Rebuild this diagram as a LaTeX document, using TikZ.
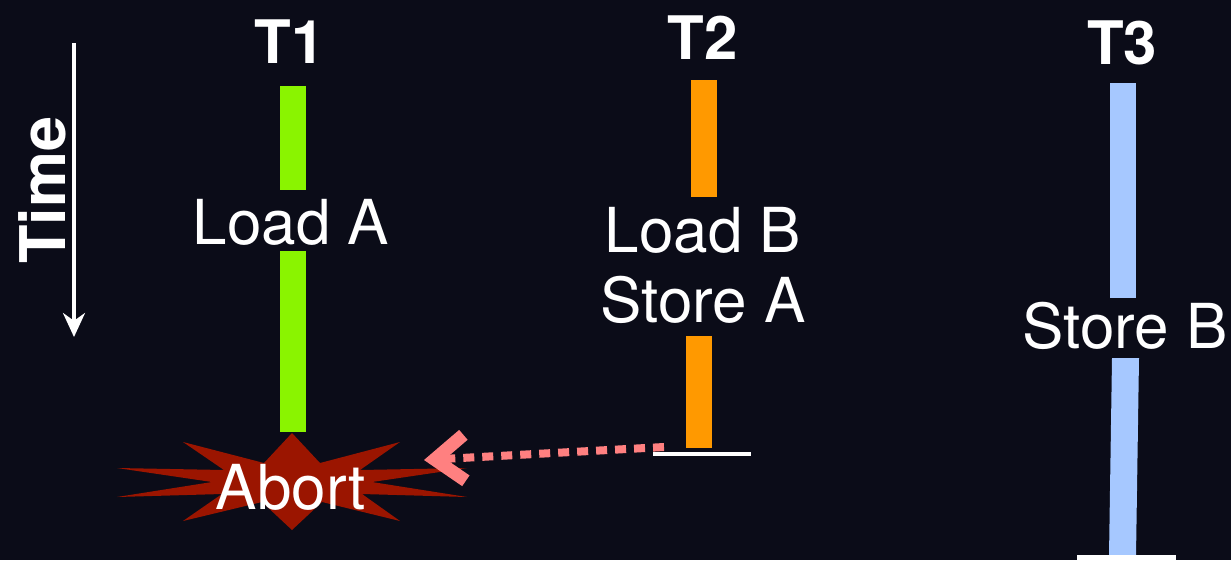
\documentclass[tikz,border=0pt]{standalone}
\usepackage{fontspec}
\setmainfont{TeX Gyre Heros}
\usetikzlibrary{arrows.meta}
\definecolor{bg}{RGB}{11,12,24}
\definecolor{tgreen}{RGB}{138,244,0}
\definecolor{torange}{RGB}{255,153,0}
\definecolor{tblue}{RGB}{166,200,255}
\definecolor{boom}{RGB}{155,21,0}
\definecolor{salmon}{RGB}{255,128,128}
\tikzset{
  bar/.style={draw=none, inner sep=0pt, minimum width=26pt},
  head/.style={text=white, font=\bfseries\fontsize{60}{66}\selectfont, inner sep=0pt},
  op/.style={text=white, font=\fontsize{62}{70}\selectfont, inner sep=0pt, align=center},
  endline/.style={draw=white, line width=4.5pt},
  conflict/.style={draw=salmon, line width=8pt, dash pattern=on 11pt off 8pt,
    -{Straight Barb[length=30pt,width=46pt,line width=13pt 0]}},
}
\begin{document}
\begin{tikzpicture}[x=1pt,y=-1pt]
\fill[bg] (0,0) rectangle (1231,560);
\useasboundingbox (0,0) rectangle (1231,560);

% time axis
\coordinate (ttop) at (74,43);
\coordinate (tbot) at (74,337);
\draw[white, line width=3.5pt, -{Stealth[length=24pt,width=22pt]}] (ttop) -- (tbot);
\node[head, rotate=90, font=\bfseries\fontsize{63}{66}\selectfont] (time) at (42,190) {Time};

% thread headers
\node[head] (h1) at (290,42) {T1};
\node[head] (h2) at (703,38) {T2};
\node[head] (h3) at (1122,43) {T3};

% T1
\node[bar, fill=tgreen, minimum height=104pt] (g1) at (293,138) {};
\node[op] (la) at (291,222) {Load A};
\node[bar, fill=tgreen, minimum height=181pt] (g2) at (293,341.5) {};

% abort burst
\fill[boom] (292,433) -- (320,463) -- (400,442) -- (360,470) -- (467,468) -- (372,482)
  -- (467,497) -- (362,494) -- (400,521) -- (322,502) -- (292,530) -- (262,502)
  -- (183,521) -- (222,494) -- (117,497) -- (212,482) -- (117,468) -- (224,470)
  -- (183,442) -- (264,463) -- cycle;
\node[op] (abort) at (291,487) {Abort};

% T2
\node[bar, fill=torange, minimum height=117pt] (o1) at (703.5,138.5) {};
\node[op] (lb) at (703,230) {Load B};
\node[op] (sa) at (703,300) {Store A};
\node[bar, fill=torange, minimum height=112pt] (o2) at (698.5,392) {};
\draw[endline] (653,454) -- (751,454);
\coordinate (t2end) at (664,447);
\coordinate (hit) at (424,460);
\draw[conflict] (t2end) -- (hit);

% T3
\node[bar, fill=tblue, minimum height=215pt] (b1) at (1122.5,190.5) {};
\node[op] (sb) at (1125,326) {Store B};
\fill[tblue] (1112,358) -- (1139,358) -- (1136,556) -- (1109,556) -- cycle;
\draw[endline] (1077,557.5) -- (1176,557.5);
\end{tikzpicture}
\end{document}
